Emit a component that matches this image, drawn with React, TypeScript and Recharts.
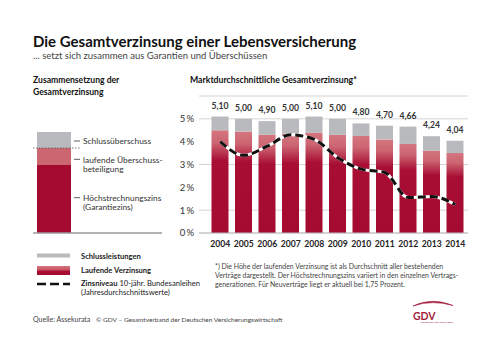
import React from 'react';
import { ComposedChart, BarChart, Bar, Line, XAxis, YAxis, CartesianGrid, LabelList } from 'recharts';

const years = ['2004', '2005', '2006', '2007', '2008', '2009', '2010', '2011', '2012', '2013', '2014'];
const totalRates = [5.1, 5.0, 4.9, 5.0, 5.1, 5.0, 4.8, 4.7, 4.66, 4.24, 4.04];
const currentRates = [4.5, 4.45, 4.3, 4.35, 4.4, 4.3, 4.25, 4.1, 3.9, 3.6, 3.5];
const bondYields = [4.0, 3.4, 3.8, 4.3, 4.1, 3.3, 2.8, 2.65, 1.55, 1.6, 1.25];
const yTicks = [0, 1, 2, 3, 4, 5];

// schematic composition (left panel)
const compositionParts = { garantie: 68, laufend: 17, schluss: 16 };

const data = years.map((y, i) => ({
  year: y,
  laufend: currentRates[i],
  schluss: Math.round((totalRates[i] - currentRates[i]) * 100) / 100,
  total: totalRates[i],
  zins: bondYields[i],
}));

const compData = [{ name: '', ...compositionParts }];

const FONT = 'Lato, "Open Sans", sans-serif';
const RED = '#a50a30';
const PINK = '#cc6670';
const GREY = '#b8babe';

const fmt = (v: any) => Number(v).toFixed(2).replace('.', ',');

export default function App() {
  return (
    <div style={{ position: 'absolute', left: 0, top: 0, width: 500, height: 355, background: '#fff', fontFamily: FONT, overflow: 'hidden' }}>
      <div style={{ position: 'absolute', left: 0, top: 0 }}>
        <ComposedChart
          width={500}
          height={355}
          data={data}
          margin={{ top: 96, right: 32, bottom: 102, left: 159 }}
        >
          <defs>
            <linearGradient id="laufGrad" x1="0" y1="0" x2="0" y2="1">
              <stop offset="0" stopColor="#d4767f" />
              <stop offset="0.12" stopColor="#cc6571" />
              <stop offset="0.3" stopColor="#a80d34" />
              <stop offset="1" stopColor={RED} />
            </linearGradient>
          </defs>
          <CartesianGrid vertical={false} stroke="#d4d4d4" strokeWidth={1} />
          <XAxis
            dataKey="year"
            padding={{ left: 9.5, right: 1 }}
            tickLine={false}
            tickSize={0}
            tickMargin={8}
            height={20}
            axisLine={{ stroke: '#bdbdbd' }}
            tick={{ fontSize: 8.6, fontWeight: 700, fill: '#222', fontFamily: FONT }}
            interval={0}
          />
          <YAxis
            domain={[0, 6]}
            ticks={yTicks}
            width={40}
            tickLine={false}
            axisLine={false}
            tickSize={0}
            tickMargin={5}
            tickFormatter={(v: number) => `${v}\u2009%`}
            tick={{ fontSize: 9.5, fill: '#333', fontFamily: FONT }}
          />
          <Bar dataKey="laufend" stackId="a" fill="url(#laufGrad)" barSize={17} isAnimationActive={false} />
          <Bar dataKey="schluss" stackId="a" fill={GREY} barSize={17} isAnimationActive={false}>
            <LabelList
              dataKey="total"
              position="top"
              offset={8}
              formatter={fmt}
              style={{ fontSize: 8.6, fontWeight: 700, fill: '#333', fontFamily: FONT }}
            />
          </Bar>
          <Line type="monotone" dataKey="zins" stroke="#fff" strokeWidth={3} dot={false} isAnimationActive={false} />
          <Line type="monotone" dataKey="zins" stroke="#111" strokeWidth={3} strokeDasharray="8 4" dot={false} isAnimationActive={false} />
        </ComposedChart>
      </div>

      <div style={{ position: 'absolute', left: 0, top: 0 }}>
        <BarChart width={180} height={250} data={compData} margin={{ top: 132, right: 18, bottom: 16, left: 33 }}>
          <XAxis dataKey="name" tick={false} tickLine={false} height={1} padding={{ left: 0, right: 87 }} axisLine={{ stroke: '#9a9a9a', strokeWidth: 1.5 }} />
          <YAxis hide domain={[0, 101]} />
          <Bar dataKey="garantie" stackId="c" fill={RED} barSize={34} isAnimationActive={false} />
          <Bar dataKey="laufend" stackId="c" fill={PINK} barSize={34} isAnimationActive={false} />
          <Bar dataKey="schluss" stackId="c" fill={GREY} barSize={34} isAnimationActive={false} />
        </BarChart>
      </div>

      <svg width={500} height={355} style={{ position: 'absolute', left: 0, top: 0, pointerEvents: 'none' }} fontFamily={FONT}>
        <defs>
          <linearGradient id="legGrad" x1="0" y1="0" x2="0" y2="1">
            <stop offset="0" stopColor="#d4767f" />
            <stop offset="0.4" stopColor="#c95563" />
            <stop offset="0.6" stopColor="#a80d34" />
            <stop offset="1" stopColor={RED} />
          </linearGradient>
        </defs>
        <text x={33} y={46.5} fontSize={15} fontWeight={700} fill="#111">Die Gesamtverzinsung einer Lebensversicherung</text>
        <text x={33} y={58.5} fontSize={9.5} fill="#444">... setzt sich zusammen aus Garantien und Überschüssen</text>

        <text x={33} y={83} fontSize={8.6} fontWeight={700} fill="#111">Zusammensetzung der</text>
        <text x={33} y={95} fontSize={8.6} fontWeight={700} fill="#111">Gesamtverzinsung</text>
        <text x={190} y={83} fontSize={8.7} fontWeight={700} fill="#111">Marktdurchschnittliche Gesamtverzinsung*</text>

        <line x1={33} y1={148} x2={80} y2={148} stroke="#555" strokeWidth={0.8} strokeDasharray="1.5 1.5" />
        <line x1={74} y1={141} x2={80} y2={141} stroke="#333" strokeWidth={0.8} />
        <line x1={74} y1={159.3} x2={80} y2={159.3} stroke="#333" strokeWidth={0.8} />
        <line x1={74} y1={197.7} x2={80} y2={197.7} stroke="#333" strokeWidth={0.8} />
        <g fontSize={8.4} fill="#333">
          <text x={83} y={144}>Schlussüberschuss</text>
          <text x={83} y={162.5}>laufende Überschuss-</text>
          <text x={83} y={172}>beteiligung</text>
          <text x={83} y={200.5}>Höchstrechnungszins</text>
          <text x={83} y={210}>(Garantiezins)</text>
        </g>

        <rect x={37} y={253.5} width={33} height={4} fill={GREY} />
        <rect x={37} y={266} width={33} height={9} fill="url(#legGrad)" />
        <line x1={37} y1={284} x2={70} y2={284} stroke="#111" strokeWidth={2.5} strokeDasharray="9 4" />
        <g fontSize={7.6} fill="#222">
          <text x={81} y={258.5} fontWeight={700}>Schlussleistungen</text>
          <text x={81} y={273} fontWeight={700}>Laufende Verzinsung</text>
          <text x={81} y={286}><tspan fontWeight={700}>Zinsniveau</tspan> 10-jähr. Bundesanleihen</text>
          <text x={81} y={294.5}>(Jahresdurchschnittswerte)</text>
        </g>

        <g fontSize={6.9} fill="#444">
          <text x={215} y={269}>*) Die Höhe der laufenden Verzinsung ist als Durchschnitt aller bestehenden</text>
          <text x={215} y={278}>Verträge dargestellt. Der Höchstrechnungszins variiert in den einzelnen Vertrags-</text>
          <text x={215} y={287}>generationen. Für Neuverträge liegt er aktuell bei 1,75 Prozent.</text>
        </g>

        <g fill="#444">
          <text x={33} y={322} fontSize={7}>Quelle: Assekurata</text>
          <text x={96} y={322} fontSize={6.5}>© GDV – Gesamtverband der Deutschen Versicherungswirtschaft</text>
        </g>

        <path d="M413,306 Q432,297 453,305.5 Q432,299.5 413,306 Z" fill="#a21d3c" stroke="#a21d3c" strokeWidth={0.6} />
        <text x={413} y={319.5} fontSize={10.5} fontWeight={700} fill="#a21d3c">GDV</text>
        <text x={421} y={322.5} fontSize={2.2} fill="#a21d3c">DIE DEUTSCHEN VERSICHERER</text>
      </svg>
    </div>
  );
}
